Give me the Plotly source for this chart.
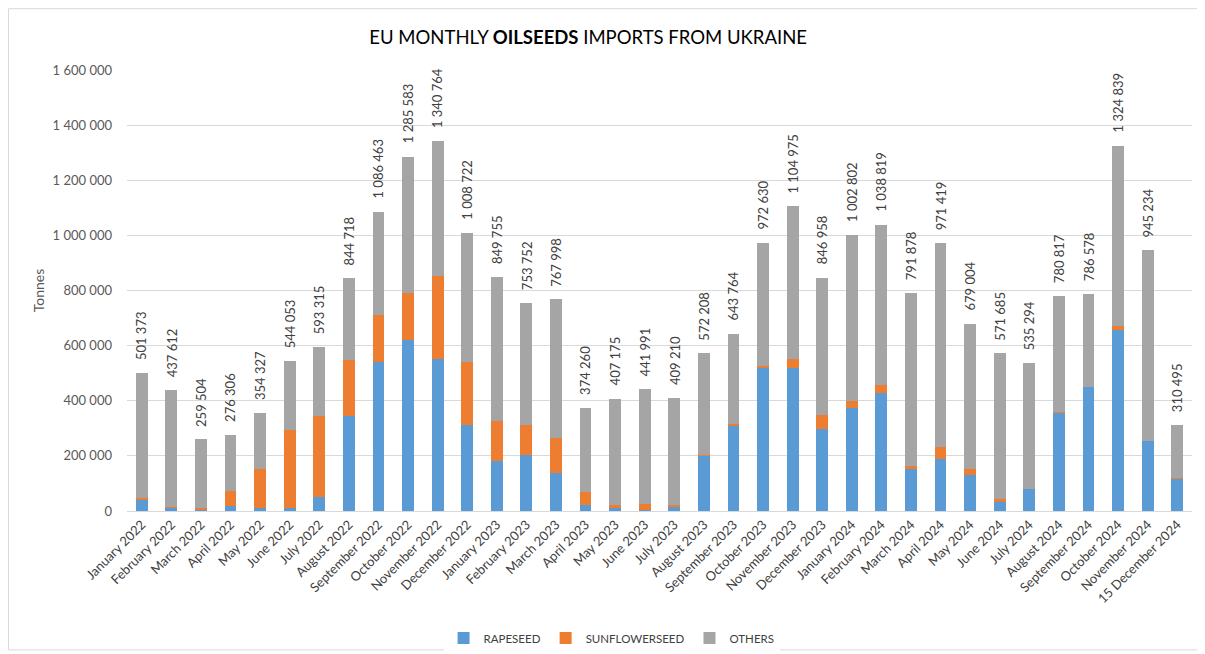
import plotly.graph_objects as go

months = ["January 2022", "February 2022", "March 2022", "April 2022", "May 2022", "June 2022",
          "July 2022", "August 2022", "September 2022", "October 2022", "November 2022", "December 2022",
          "January 2023", "February 2023", "March 2023", "April 2023", "May 2023", "June 2023",
          "July 2023", "August 2023", "September 2023", "October 2023", "November 2023", "December 2023",
          "January 2024", "February 2024", "March 2024", "April 2024", "May 2024", "June 2024",
          "July 2024", "August 2024", "September 2024", "October 2024", "November 2024", "15 December 2024"]

totals = [501373, 437612, 259504, 276306, 354327, 544053, 593315, 844718, 1086463, 1285583, 1340764, 1008722,
          849755, 753752, 767998, 374260, 407175, 441991, 409210, 572208, 643764, 972630, 1104975, 846958,
          1002802, 1038819, 791878, 971419, 679004, 571685, 535294, 780817, 786578, 1324839, 945234, 310495]

rapeseed = [42000, 12000, 2000, 17000, 10000, 10000, 49000, 345000, 540000, 622000, 552000, 311000,
            181000, 202000, 137000, 21000, 12000, 2000, 15000, 203000, 312000, 522000, 519000, 296000,
            375000, 429000, 151000, 188000, 129000, 33000, 79000, 356000, 450000, 657000, 254000, 117000]

sunflowerseed = [4000, 2000, 8000, 55000, 142000, 285000, 296000, 204000, 172000, 169000, 299000, 231000,
                 144000, 109000, 129000, 49000, 10000, 22000, 5000, 2000, 4000, 5000, 34000, 53000,
                 25000, 27000, 11000, 43000, 22000, 9000, 0, 4000, 0, 14000, 0, 4000]

others = [455373, 423612, 249504, 204306, 202327, 249053, 248315, 295718, 374463, 494583, 489764, 466722,
          524755, 442752, 501998, 304260, 385175, 417991, 389210, 367208, 327764, 445630, 551975, 497958,
          602802, 582819, 629878, 740419, 528004, 529685, 456294, 420817, 336578, 653839, 691234, 189495]

y_ticks = [0, 200000, 400000, 600000, 800000, 1000000, 1200000, 1400000, 1600000]

FONT = "Lato"

fig = go.Figure()
fig.add_trace(go.Bar(name="RAPESEED", x=months, y=rapeseed, marker=dict(color="#5B9BD5", line=dict(width=0))))
fig.add_trace(go.Bar(name="SUNFLOWERSEED", x=months, y=sunflowerseed, marker=dict(color="#ED7D31", line=dict(width=0))))
fig.add_trace(go.Bar(name="OTHERS", x=months, y=others, marker=dict(color="#A5A5A5", line=dict(width=0))))

for m, t in zip(months, totals):
    fig.add_annotation(x=m, y=t, xref="x", yref="y", text=f"{t:,}".replace(",", " "),
                       textangle=-90, showarrow=False, xanchor="center", yanchor="bottom",
                       yshift=11, font=dict(family=FONT, size=13, color="#404040"))

# outer chart border
fig.add_shape(type="rect", xref="paper", yref="paper", x0=-0.1113, x1=1.0094, y0=-0.315, y1=1.139,
              line=dict(color="#D9D9D9", width=1), layer="below")

fig.update_layout(
    width=1197, height=646,
    margin=dict(l=119, r=13, t=62, b=143, autoexpand=False),
    paper_bgcolor="white", plot_bgcolor="white",
    barmode="stack", bargap=0.6,
    separators=". ",
    font=dict(family=FONT, size=13, color="#595959"),
    title=dict(text="EU MONTHLY <b>OILSEEDS</b> IMPORTS FROM UKRAINE", x=0.433, xref="paper",
               xanchor="center", y=0.955, yref="container", yanchor="middle",
               font=dict(family=FONT, size=18.5, color="#000000")),
    legend=dict(orientation="h", x=0.455, xanchor="center", y=-0.288, yanchor="middle",
                font=dict(family=FONT, size=11.5, color="#404040"), itemwidth=30, traceorder="normal"),
    showlegend=True,
)
fig.update_xaxes(tickangle=-45, tickfont=dict(family=FONT, size=13, color="#404040"),
                 showgrid=False, showline=True, linecolor="#D9D9D9", ticks="")
fig.update_yaxes(range=[0, 1600000], tickvals=y_ticks, tickformat=",d",
                 showgrid=True, gridcolor="#D9D9D9", zeroline=False, showline=False,
                 tickfont=dict(family=FONT, size=13, color="#595959"), ticklabelstandoff=14,
                 title=dict(text="Tonnes", font=dict(family=FONT, size=14, color="#595959"), standoff=4))

fig.write_html("out.html")
